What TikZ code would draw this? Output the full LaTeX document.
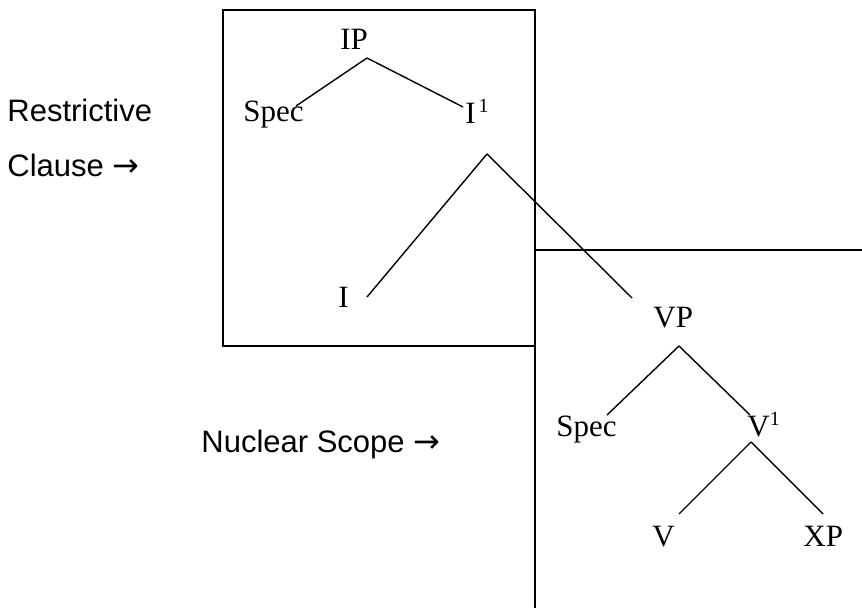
\documentclass[tikz,border=0pt]{standalone}
\usepackage{fontspec}
\setmainfont{Liberation Serif}
\newfontfamily\arialfont{Liberation Sans}
\newfontfamily\arrowfont{DejaVu Sans}
\usetikzlibrary{positioning}
\newcommand{\barmark}{\raisebox{5.6pt}{\fontsize{10}{10}\selectfont 1}}
\newcommand{\rarrow}{{\arrowfont\fontsize{16}{18}\selectfont →}}
\tikzstyle{cat} = [inner sep=0pt, anchor=base west, font=\fontsize{15.5}{18}\selectfont]
\tikzstyle{caption} = [inner sep=0pt, anchor=base west, font=\arialfont\fontsize{15.5}{18}\selectfont]
\tikzstyle{line} = [draw, line width=0.7pt]
\tikzstyle{frame} = [draw, line width=0.7pt]

\begin{document}
\begin{tikzpicture}[x=0.5pt, y=-0.5pt]
			\useasboundingbox (0,0) rectangle (862,608);
			% Frames
			\draw [frame] (223,10) rectangle (535,346);
			\coordinate (scopeBottom) at (535,608);
			\coordinate (scopeCorner) at (535,250);
			\coordinate (scopeRight) at (862,250);
			\path [frame] (scopeBottom) -- (scopeCorner) -- (scopeRight);

			% Place nodes
			\node [caption] (restrictive) at (7,122) {Restrictive};
			\node [caption] (clause) at (7,177) {Clause \rarrow};
			\node [caption] (nuclear) at (201,453) {Nuclear Scope \rarrow};

			\node [cat] (ip) at (340,50) {IP};
			\node [cat] (specI) at (243,122) {Spec};
			\node [cat] (ibar) at (465,124) {I\kern1.5pt\barmark};
			\node [cat] (i) at (338,308) {I};
			\node [cat] (vp) at (653,328) {VP};
			\node [cat] (specV) at (556,437) {Spec};
			\node [cat] (vbar) at (747,437) {V\barmark};
			\node [cat] (v) at (652,547) {V};
			\node [cat] (xp) at (803,547) {XP};

			% Branch points
			\coordinate (ipTop) at (367,58);
			\coordinate (specIEnd) at (296,106);
			\coordinate (ibarEnd) at (463,107);
			\coordinate (ibarTop) at (487,154);
			\coordinate (iEnd) at (367,297);
			\coordinate (vpEnd) at (632,298);
			\coordinate (vpTop) at (679,346);
			\coordinate (specVEnd) at (607,415);
			\coordinate (vbarEnd) at (750,415);
			\coordinate (vbarTop) at (751,442);
			\coordinate (vEnd) at (679,514);
			\coordinate (xpEnd) at (823,514);

			% Draw edges
			\path [line] (ipTop) -- (specIEnd);
			\path [line] (ipTop) -- (ibarEnd);
			\path [line] (ibarTop) -- (iEnd);
			\path [line] (ibarTop) -- (vpEnd);
			\path [line] (vpTop) -- (specVEnd);
			\path [line] (vpTop) -- (vbarEnd);
			\path [line] (vbarTop) -- (vEnd);
			\path [line] (vbarTop) -- (xpEnd);
	\end{tikzpicture}
\end{document}
